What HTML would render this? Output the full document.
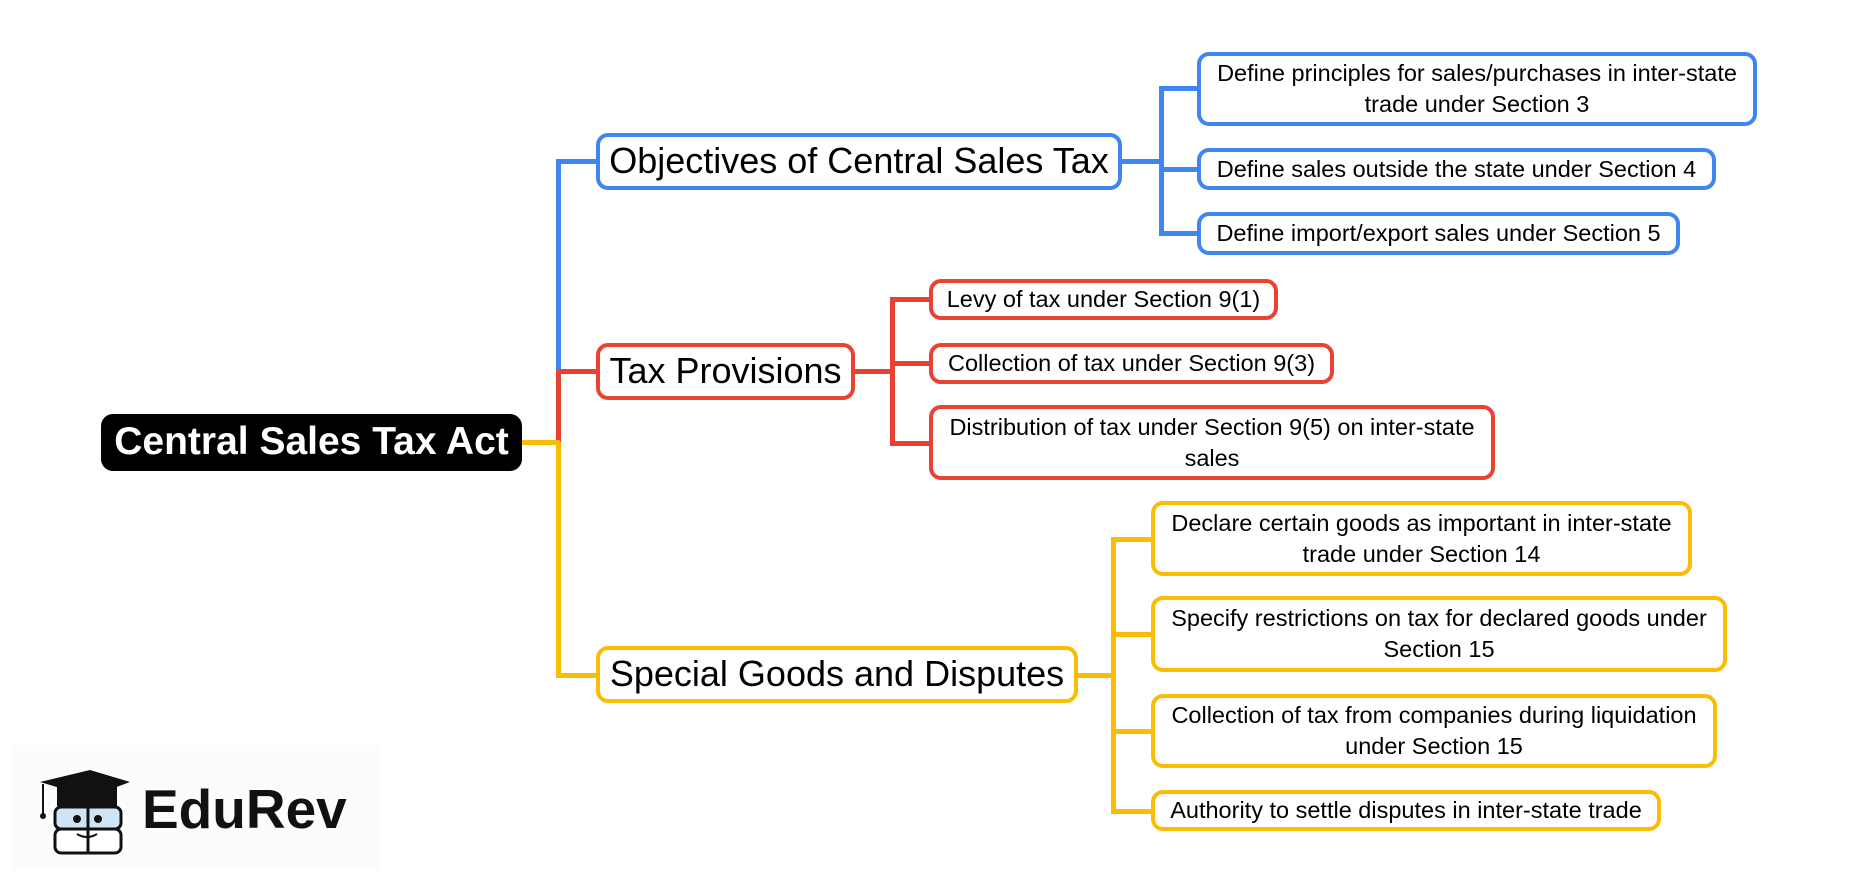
<!DOCTYPE html>
<html><head><meta charset="utf-8"><style>
body{margin:0;width:1859px;height:884px;background:#fff;position:relative;overflow:hidden;font-family:"Liberation Sans",sans-serif}
.b{position:absolute;box-sizing:border-box;border-radius:12px;display:flex;align-items:center;justify-content:center;text-align:center;background:#fff;line-height:1.3}
.l{position:absolute}
.bl{border:4px solid #3f86f0}.rd{border:4px solid #e94235}.yl{border:4px solid #fbbc04}
.m{font-size:36px;white-space:nowrap}.s{font-size:23.5px;padding:0 8px}
</style></head><body>
<!-- trunk -->
<div class="l" style="left:556px;top:159px;width:5px;height:212px;background:#3f86f0"></div>
<div class="l" style="left:556px;top:371px;width:5px;height:71px;background:#e94235"></div>
<div class="l" style="left:556px;top:442px;width:5px;height:236px;background:#fbbc04"></div>
<div class="l" style="left:522px;top:440px;width:38px;height:5px;background:#fbbc04"></div>
<div class="l" style="left:556px;top:159px;width:42px;height:5px;background:#3f86f0"></div>
<div class="l" style="left:556px;top:369px;width:42px;height:5px;background:#e94235"></div>
<div class="l" style="left:556px;top:673px;width:42px;height:5px;background:#fbbc04"></div>
<!-- blue branch -->
<div class="l" style="left:1120px;top:159px;width:42px;height:5px;background:#3f86f0"></div>
<div class="l" style="left:1159px;top:86px;width:5px;height:150px;background:#3f86f0"></div>
<div class="l" style="left:1159px;top:86px;width:40px;height:5px;background:#3f86f0"></div>
<div class="l" style="left:1159px;top:167px;width:40px;height:5px;background:#3f86f0"></div>
<div class="l" style="left:1159px;top:231px;width:40px;height:5px;background:#3f86f0"></div>
<!-- red branch -->
<div class="l" style="left:853px;top:369px;width:40px;height:5px;background:#e94235"></div>
<div class="l" style="left:890px;top:297px;width:5px;height:148px;background:#e94235"></div>
<div class="l" style="left:890px;top:297px;width:41px;height:5px;background:#e94235"></div>
<div class="l" style="left:890px;top:361px;width:41px;height:5px;background:#e94235"></div>
<div class="l" style="left:890px;top:441px;width:41px;height:5px;background:#e94235"></div>
<!-- yellow branch -->
<div class="l" style="left:1076px;top:673px;width:40px;height:5px;background:#fbbc04"></div>
<div class="l" style="left:1111px;top:537px;width:5px;height:277px;background:#fbbc04"></div>
<div class="l" style="left:1111px;top:537px;width:42px;height:5px;background:#fbbc04"></div>
<div class="l" style="left:1111px;top:632px;width:42px;height:5px;background:#fbbc04"></div>
<div class="l" style="left:1111px;top:729px;width:42px;height:5px;background:#fbbc04"></div>
<div class="l" style="left:1111px;top:809px;width:42px;height:5px;background:#fbbc04"></div>

<div class="b" style="left:101px;top:414px;width:421px;height:57px;background:#000;color:#fff;font-weight:bold;font-size:39px;border-radius:12px;white-space:nowrap">Central Sales Tax Act</div>
<div class="b bl m" style="left:596px;top:133px;width:526px;height:57px">Objectives of Central Sales Tax</div>
<div class="b rd m" style="left:596px;top:343px;width:259px;height:57px">Tax Provisions</div>
<div class="b yl m" style="left:596px;top:646px;width:482px;height:57px">Special Goods and Disputes</div>

<div class="b bl s" style="left:1197px;top:52px;width:560px;height:74px">Define principles for sales/purchases in inter-state trade under Section 3</div>
<div class="b bl s" style="left:1197px;top:148px;width:519px;height:42px">Define sales outside the state under Section 4</div>
<div class="b bl s" style="left:1197px;top:212px;width:483px;height:43px">Define import/export sales under Section 5</div>

<div class="b rd s" style="left:929px;top:279px;width:349px;height:41px">Levy of tax under Section 9(1)</div>
<div class="b rd s" style="left:929px;top:343px;width:405px;height:41px">Collection of tax under Section 9(3)</div>
<div class="b rd s" style="left:929px;top:405px;width:566px;height:75px">Distribution of tax under Section 9(5) on inter-state sales</div>

<div class="b yl s" style="left:1151px;top:501px;width:541px;height:75px">Declare certain goods as important in inter-state trade under Section 14</div>
<div class="b yl s" style="left:1151px;top:596px;width:576px;height:76px">Specify restrictions on tax for declared goods under Section 15</div>
<div class="b yl s" style="left:1151px;top:694px;width:566px;height:74px">Collection of tax from companies during liquidation under Section 15</div>
<div class="b yl s" style="left:1151px;top:790px;width:510px;height:41px">Authority to settle disputes in inter-state trade</div>

<!-- logo -->
<div class="l" style="left:12px;top:745px;width:368px;height:124px;background:#fcfcfc"></div>
<svg class="l" style="left:35px;top:762px" width="100" height="100" viewBox="0 0 100 100">
<polygon points="5,20 55,8 95,20 55,35" fill="#111"/>
<rect x="22" y="24" width="60" height="20" fill="#111"/>
<line x1="8" y1="22" x2="8" y2="52" stroke="#111" stroke-width="2"/>
<circle cx="8" cy="54" r="3" fill="#111"/>
<rect x="20" y="45" width="66" height="22" rx="6" fill="#cfe3f5" stroke="#111" stroke-width="3"/>
<rect x="20" y="67" width="66" height="24" rx="6" fill="#fff" stroke="#111" stroke-width="3"/>
<line x1="53" y1="40" x2="53" y2="92" stroke="#111" stroke-width="3"/>
<circle cx="42" cy="57" r="4" fill="#111"/><circle cx="63" cy="57" r="4" fill="#111"/>
<path d="M42 72 Q52 78 62 72" stroke="#111" stroke-width="2" fill="none"/>
</svg>
<div class="l" style="left:142px;top:782px;font-size:55px;font-weight:bold;color:#111;line-height:1">EduRev</div>
</body></html>
